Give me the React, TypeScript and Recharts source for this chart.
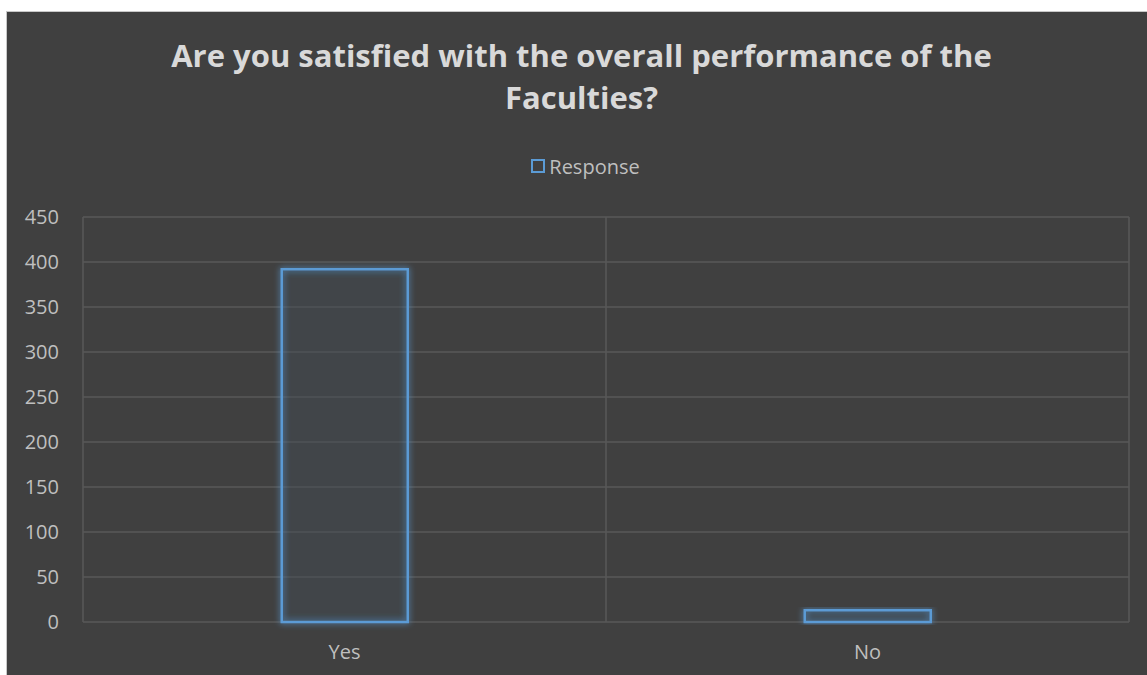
import React from 'react';
import { BarChart, Bar, XAxis, YAxis, CartesianGrid, Legend } from 'recharts';

const categories = ['Yes', 'No'];
const responses = [392, 13];
const yTicks = [0, 50, 100, 150, 200, 250, 300, 350, 400, 450];
const seriesName = 'Response';
const titleLines = ['Are you satisfied with the overall performance of the', 'Faculties?'];

const data = categories.map((c, i) => ({ category: c, value: responses[i] }));

const FONT = '"Open Sans", Lato, sans-serif';

const LegendContent = () => (
  <div style={{ display: 'flex', justifyContent: 'center', alignItems: 'center', fontFamily: FONT, fontSize: 20, color: '#bfbfbf', height: 24, paddingLeft: 16 }}>
    <span style={{ display: 'inline-block', width: 10, height: 10, border: '2px solid #5b9bd5', marginRight: 4 }} />
    <span>{seriesName}</span>
  </div>
);

export default function App() {
  const W = 1141;
  const H = 664;
  return (
    <div style={{ position: 'absolute', left: 0, top: 0, width: 1147, height: 675, background: '#ffffff' }}>
      <div style={{ position: 'absolute', left: 6, top: 11, width: W, height: H, background: '#404040', borderLeft: '1px solid #c8c8c8', borderTop: '1px solid #c8c8c8', boxSizing: 'border-box' }}>
        <div style={{ position: 'absolute', left: 4, top: 22, width: W, textAlign: 'center', fontFamily: FONT, fontWeight: 700, fontSize: 31, lineHeight: '42px', color: '#d9d9d9' }}>
          {titleLines.map((l) => (<div key={l}>{l}</div>))}
        </div>
        <BarChart
          width={W}
          height={H}
          data={data}
          margin={{ top: 181, right: 19, bottom: 24, left: 0 }}
          barCategoryGap="38%"
          style={{ position: 'absolute', left: 0, top: 0 }}
        >
          <defs>
            <filter id="glow" x="-20%" y="-20%" width="140%" height="140%">
              <feGaussianBlur in="SourceGraphic" stdDeviation="3" result="blur" />
              <feMerge>
                <feMergeNode in="blur" />
                <feMergeNode in="SourceGraphic" />
              </feMerge>
            </filter>
          </defs>
          <CartesianGrid
            stroke="#595959"
            strokeWidth={1.5}
            verticalCoordinatesGenerator={({ offset }: any) => [offset.left, offset.left + offset.width / 2, offset.left + offset.width]}
          />
          <XAxis
            dataKey="category"
            axisLine={false}
            tickLine={false}
            height={30}
            tick={{ fill: '#bfbfbf', fontSize: 20, fontFamily: FONT }}
            tickMargin={17}
          />
          <YAxis
            domain={[0, 450]}
            ticks={yTicks}
            axisLine={false}
            tickLine={false}
            width={76}
            tick={{ fill: '#bfbfbf', fontSize: 20, fontFamily: FONT }}
            tickMargin={18}
          />
          <Legend verticalAlign="top" content={<LegendContent />} wrapperStyle={{ top: 142, left: 0, width: W }} />
          <Bar
            dataKey="value"
            name={seriesName}
            fill="#404a55"
            fillOpacity={0.25}
            stroke="#5b9bd5"
            strokeWidth={2.5}
            filter="url(#glow)"
            isAnimationActive={false}
          />
        </BarChart>
      </div>
    </div>
  );
}
